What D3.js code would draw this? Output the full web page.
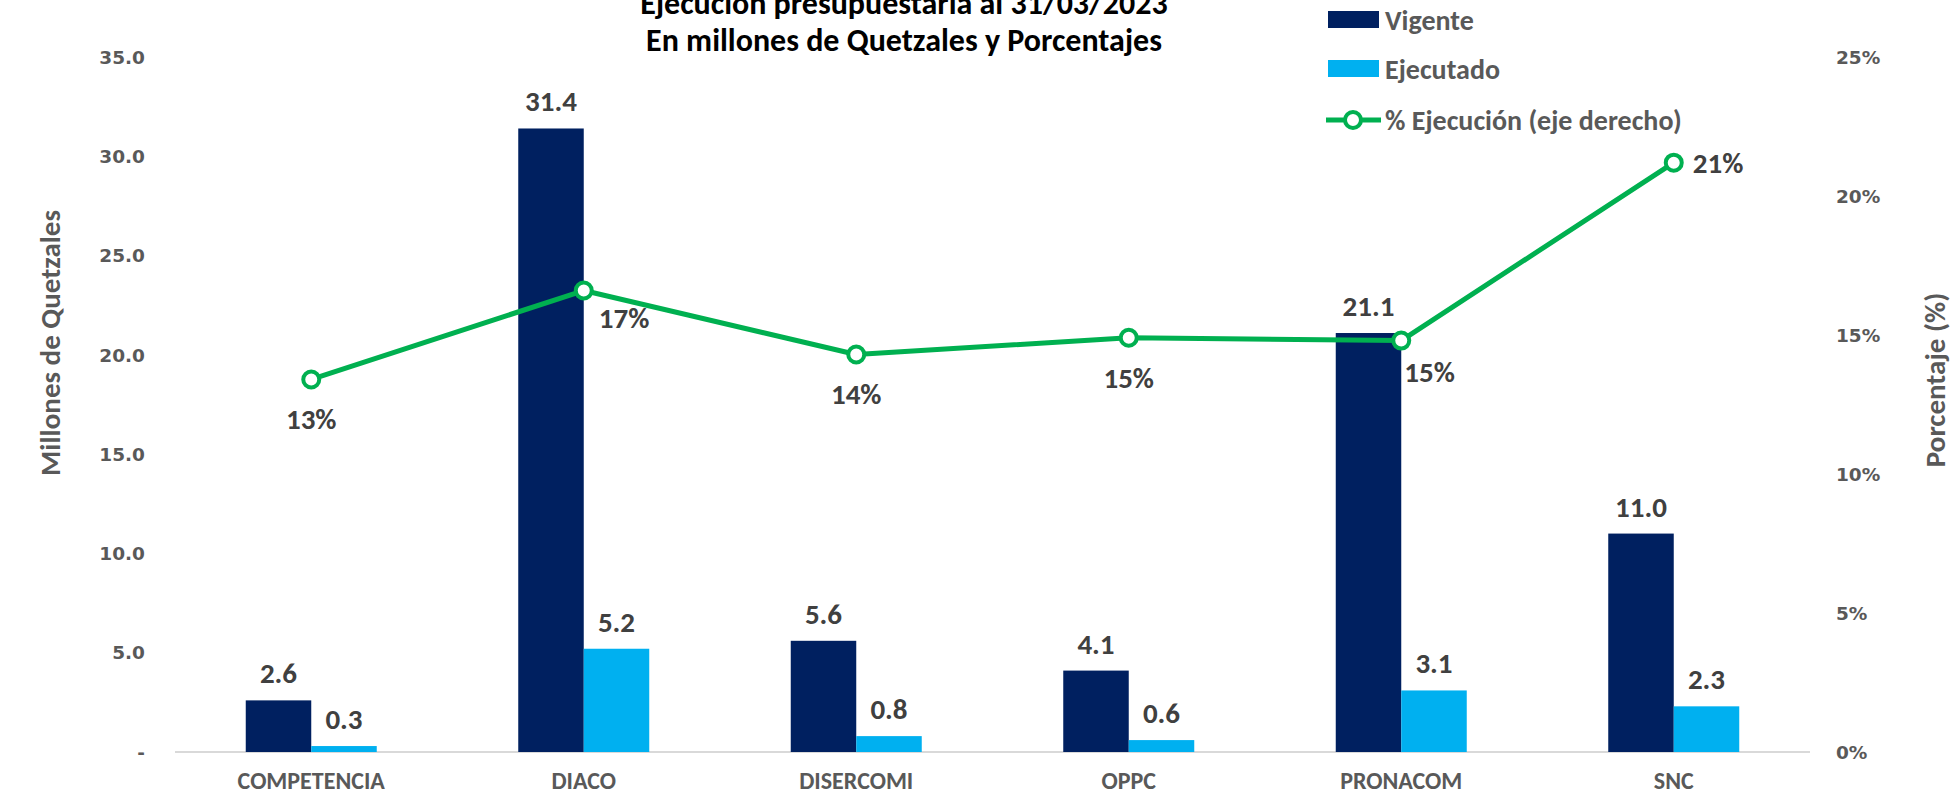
<!DOCTYPE html>
<html lang="es">
<head>
<meta charset="UTF-8">
<title>Ejecución presupuestaria</title>
<script src="https://cdnjs.cloudflare.com/ajax/libs/d3/7.8.5/d3.min.js"></script>
<style>
    body { margin: 0; background: #fff; }
    .lbl { font-family: Carlito, "Liberation Sans Narrow", "Open Sans", sans-serif; font-weight: bold; }
    .tick-lbl { font-family: "DejaVu Sans", Verdana, sans-serif; font-weight: bold; font-size: 18.5px; fill: #595959; }
</style>
</head>
<body>
<div id="chart"></div>
<script>
    // datos
    const categorias = ["COMPETENCIA", "DIACO", "DISERCOMI", "OPPC", "PRONACOM", "SNC"];
    const vigente = [2.6, 31.4, 5.6, 4.1, 21.1, 11.0];
    const ejecutado = [0.3, 5.2, 0.8, 0.6, 3.1, 2.3];
    const porcentaje = [13.4, 16.6, 14.3, 14.9, 14.8, 21.2];
    const ticksIzq = [0, 5, 10, 15, 20, 25, 30, 35];
    const ticksDer = [0, 5, 10, 15, 20, 25];

    const width = 1955, height = 797;
    const x0 = 175, x1 = 1810, yTop = 57, yBase = 752;

    const svg = d3.select("#chart").append("svg")
        .attr("width", width).attr("height", height);

    const x = d3.scaleBand().domain(categorias).range([x0, x1]);
    const xs = d3.scaleBand().domain(["v", "e"]).range([0, 131]);
    const y = d3.scaleLinear().domain([0, 35]).range([yBase, yTop]);
    const y2 = d3.scaleLinear().domain([0, 25]).range([yBase, yTop]);

    // eje izquierdo
    svg.selectAll(".tl").data(ticksIzq).enter().append("text")
        .attr("class", "tick-lbl")
        .attr("x", 145).attr("y", d => y(d)).attr("dy", "0.36em")
        .attr("text-anchor", "end")
        .text(d => d === 0 ? "-" : d.toFixed(1));

    // eje derecho
    svg.selectAll(".tr").data(ticksDer).enter().append("text")
        .attr("class", "tick-lbl")
        .attr("x", 1836).attr("y", d => y2(d)).attr("dy", "0.36em")
        .text(d => d + "%");

    // línea base
    svg.append("line")
        .attr("x1", x0).attr("x2", x1).attr("y1", yBase).attr("y2", yBase)
        .attr("stroke", "#d9d9d9").attr("stroke-width", 2);

    // barras
    const g = svg.selectAll(".grp").data(categorias).enter().append("g")
        .attr("transform", d => `translate(${x(d) + x.bandwidth() / 2 - 65.5},0)`);

    g.append("rect")
        .attr("x", xs("v")).attr("width", xs.bandwidth())
        .attr("y", (d, i) => y(vigente[i])).attr("height", (d, i) => yBase - y(vigente[i]))
        .attr("fill", "#002060");
    g.append("rect")
        .attr("x", xs("e")).attr("width", xs.bandwidth())
        .attr("y", (d, i) => y(ejecutado[i])).attr("height", (d, i) => yBase - y(ejecutado[i]))
        .attr("fill", "#00B0F0");

    g.append("text").attr("class", "lbl")
        .attr("x", xs("v") + xs.bandwidth() / 2).attr("y", (d, i) => y(vigente[i]) - 17)
        .attr("text-anchor", "middle").attr("font-size", 29).attr("fill", "#404040")
        .text((d, i) => vigente[i].toFixed(1));
    g.append("text").attr("class", "lbl")
        .attr("x", xs("e") + xs.bandwidth() / 2).attr("y", (d, i) => y(ejecutado[i]) - 17)
        .attr("text-anchor", "middle").attr("font-size", 29).attr("fill", "#404040")
        .text((d, i) => ejecutado[i].toFixed(1));

    // etiquetas de categoría
    svg.selectAll(".cat").data(categorias).enter().append("text")
        .attr("class", "lbl")
        .attr("x", d => x(d) + x.bandwidth() / 2).attr("y", 789)
        .attr("text-anchor", "middle").attr("font-size", 24).attr("fill", "#595959")
        .text(d => d);

    // línea de porcentaje
    const cx = d => x(d) + x.bandwidth() / 2;
    svg.append("path")
        .datum(categorias)
        .attr("fill", "none").attr("stroke", "#00B050").attr("stroke-width", 5)
        .attr("stroke-linejoin", "round")
        .attr("d", d3.line().x(d => cx(d)).y((d, i) => y2(porcentaje[i])));

    svg.selectAll(".mk").data(categorias).enter().append("circle")
        .attr("cx", d => cx(d)).attr("cy", (d, i) => y2(porcentaje[i]))
        .attr("r", 8).attr("fill", "#fff").attr("stroke", "#00B050").attr("stroke-width", 4);

    // posiciones de etiquetas del %: dx, dy relativos al punto
    const offs = [[0, 50, "middle"], [15, 37, "start"], [0, 50, "middle"], [0, 50, "middle"], [3, 41, "start"], [19, 10, "start"]];
    svg.selectAll(".pl").data(categorias).enter().append("text")
        .attr("class", "lbl")
        .attr("x", (d, i) => cx(d) + offs[i][0]).attr("y", (d, i) => y2(porcentaje[i]) + offs[i][1])
        .attr("text-anchor", (d, i) => offs[i][2])
        .attr("font-size", 29).attr("fill", "#404040")
        .text((d, i) => Math.round(porcentaje[i]) + "%");

    // títulos
    svg.append("text").attr("class", "lbl")
        .attr("x", 904).attr("y", 14).attr("text-anchor", "middle")
        .attr("font-size", 32).attr("fill", "#000")
        .text("Ejecución presupuestaria al 31/03/2023");
    svg.append("text").attr("class", "lbl")
        .attr("x", 904).attr("y", 51).attr("text-anchor", "middle")
        .attr("font-size", 32).attr("fill", "#000")
        .text("En millones de Quetzales y Porcentajes");

    svg.append("text").attr("class", "lbl")
        .attr("transform", "translate(60,343) rotate(-90)")
        .attr("text-anchor", "middle").attr("font-size", 29).attr("fill", "#595959")
        .text("Millones de Quetzales");
    svg.append("text").attr("class", "lbl")
        .attr("transform", "translate(1945,380) rotate(-90)")
        .attr("text-anchor", "middle").attr("font-size", 29).attr("fill", "#595959")
        .text("Porcentaje (%)");

    // leyenda
    const leg = svg.append("g");
    leg.append("rect").attr("x", 1328).attr("y", 11).attr("width", 51).attr("height", 17).attr("fill", "#002060");
    leg.append("rect").attr("x", 1328).attr("y", 60).attr("width", 51).attr("height", 17).attr("fill", "#00B0F0");
    leg.append("line").attr("x1", 1326).attr("x2", 1381).attr("y1", 120).attr("y2", 120)
        .attr("stroke", "#00B050").attr("stroke-width", 5);
    leg.append("circle").attr("cx", 1353).attr("cy", 120).attr("r", 8)
        .attr("fill", "#fff").attr("stroke", "#00B050").attr("stroke-width", 4);
    const legTxt = ["Vigente", "Ejecutado", "% Ejecución (eje derecho)"];
    leg.selectAll(".lt").data(legTxt).enter().append("text")
        .attr("class", "lbl")
        .attr("x", 1385).attr("y", (d, i) => [20, 69, 120][i]).attr("dy", "0.35em")
        .attr("font-size", 28).attr("fill", "#595959")
        .text(d => d);
</script>
</body>
</html>
